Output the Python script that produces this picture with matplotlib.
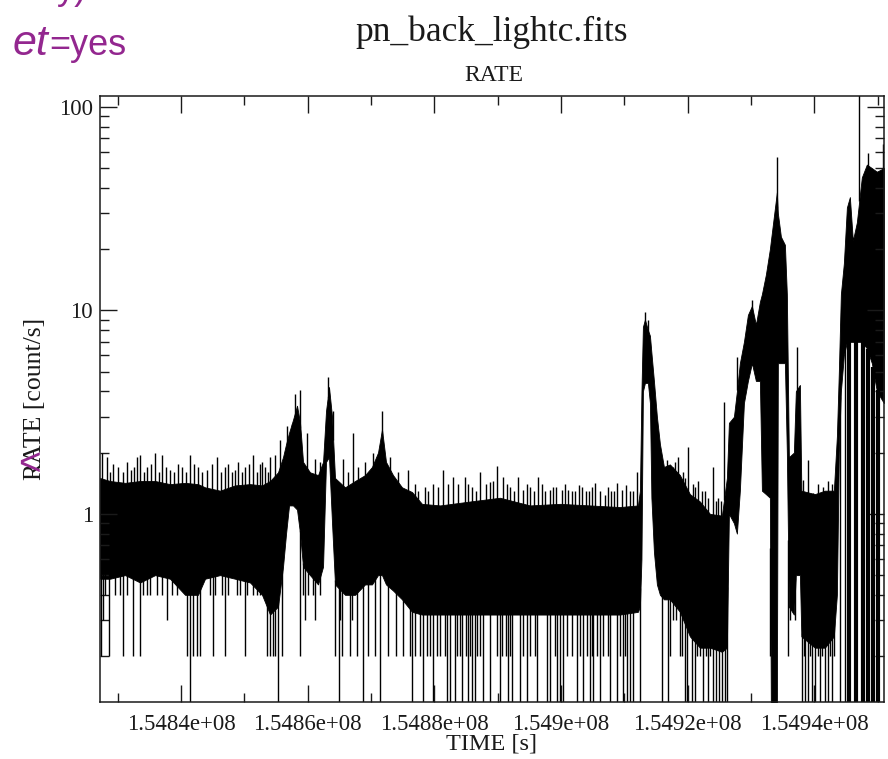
import numpy as np
import matplotlib.pyplot as plt
from matplotlib.ticker import FixedLocator, FuncFormatter, LogLocator, MultipleLocator, NullFormatter

plt.rcParams['font.family'] = 'Liberation Serif'

# --- light curve ---
# envelope of the dense band of bins (TIME [s], RATE [count/s])
knot_time = np.array([
    154827210, 154828790, 154831160, 154833530, 154835900, 154838260, 154840630, 154842680,
    154843790, 154846160, 154848520, 154850890, 154852790, 154854050, 154855310, 154856100,
    154856580, 154857050, 154857680, 154858310, 154858790, 154859260, 154860360, 154861630,
    154862420, 154862890, 154863360, 154863840, 154864310, 154865890, 154867470, 154869050,
    154870150, 154871100, 154871730, 154872360, 154873470, 154874890, 154876470, 154878040,
    154880890, 154885620, 154890360, 154895090, 154899830, 154904560, 154909300, 154912140,
    154912460, 154912700, 154912930, 154913250, 154913720, 154914040, 154914270, 154914670,
    154915140, 154915620, 154916250, 154917190, 154918770, 154920350, 154921930, 154923510,
    154925400, 154926190, 154926510, 154927300, 154927770, 154928240, 154928880, 154929510,
    154930140, 154930770, 154931400, 154931720, 154932350, 154932980, 154933140, 154934080,
    154934240, 154934720, 154935350, 154935660, 154935980, 154936770, 154937080, 154937720,
    154937950, 154940080, 154941660, 154943080, 154943560, 154943870, 154944190, 154944660,
    154945140, 154945610, 154946080, 154946710, 154947500, 154948290, 154949080, 154949870,
    154950980])
band_top = np.array([
    1.5, 1.45, 1.42, 1.45, 1.45, 1.4, 1.42, 1.4,
    1.35, 1.3, 1.38, 1.4, 1.38, 1.45, 1.6, 1.9,
    2.2, 2.5, 2.9, 3.4, 2.8, 1.8, 1.6, 1.55,
    1.8, 3.2, 4.2, 3.0, 1.5, 1.35, 1.45, 1.55,
    1.7, 2.0, 2.6, 1.8, 1.55, 1.35, 1.28, 1.12,
    1.1, 1.15, 1.2, 1.1, 1.12, 1.1, 1.08, 1.1,
    1.3, 4.0, 8.3, 9.0, 8.0, 7.5, 6.2, 4.5,
    3.0, 2.2, 1.7, 1.75, 1.55, 1.25, 1.15, 1.0,
    0.98, 1.5, 2.8, 3.0, 4.0, 5.5, 7.0, 9.5,
    10.5, 8.5, 11.0, 12.0, 15.0, 20.0, 22.0, 38.0,
    30.0, 23.0, 21.0, 12.0, 1.9, 2.0, 4.0, 4.3,
    1.3, 1.25, 1.3, 1.3, 2.4, 5.0, 12.0, 17.0,
    32.0, 36.0, 22.0, 27.0, 45.0, 52.0, 50.0, 48.0,
    50.0])
band_low = np.array([
    0.48, 0.48, 0.5, 0.46, 0.5, 0.48, 0.4, 0.4,
    0.48, 0.5, 0.48, 0.46, 0.4, 0.32, 0.35, 0.55,
    0.8, 1.1, 1.1, 1.05, 0.8, 0.55, 0.5, 0.45,
    0.55, 1.8, 1.9, 0.9, 0.45, 0.4, 0.4, 0.45,
    0.45, 0.5, 0.5, 0.45, 0.42, 0.38, 0.33, 0.32,
    0.32, 0.32, 0.32, 0.32, 0.32, 0.32, 0.32, 0.33,
    0.35, 0.6, 4.0, 4.4, 4.4, 3.5, 1.2, 0.65,
    0.45, 0.4, 0.38, 0.38, 0.33, 0.25, 0.22, 0.22,
    0.21, 0.22, 1.0, 0.9, 0.8, 1.3, 3.5, 4.5,
    5.5, 4.5, 4.5, 1.3, 1.25, 1.2, 0.1, 0.1,
    5.5, 5.5, 5.5, 2.0, 0.35, 0.32, 0.5, 0.5,
    0.25, 0.22, 0.22, 0.25, 0.4, 2.0, 4.0, 6.0,
    7.0, 7.0, 7.0, 7.0, 7.0, 6.5, 5.5, 4.0,
    3.5])

# single bins sticking out above the band
spike_time = [
    154827520, 154828310, 154829260, 154830050, 154831470, 154832100, 154833050, 154833520,
    154834630, 154835890, 154837000, 154838260, 154839530, 154841420, 154842690, 154844110,
    154845690, 154846950, 154848060, 154849010, 154850110, 154851380, 154852480, 154853270,
    154854060, 154854850, 154855640, 154856750, 154857540, 154858010, 154858800, 154859910,
    154861170, 154861960, 154863230, 154864020, 154865600, 154866390, 154867180, 154867970,
    154869070, 154870340, 154871760, 154873020, 154874290, 154875870, 154877450, 154878550,
    154879820, 154881400, 154882190, 154882980, 154883770, 154884870, 154885980, 154887240,
    154888190, 154888820, 154889930, 154890880, 154891980, 154893250, 154894040, 154895140,
    154896410, 154897510, 154898300, 154899250, 154900200, 154901150, 154902250, 154903360,
    154904460, 154905410, 154906990, 154907940, 154908890, 154909680, 154910940, 154912050,
    154913310, 154913790, 154916790, 154917740, 154918530, 154919320, 154920110, 154920900,
    154921690, 154922790, 154924060, 154924850, 154925790, 154927850, 154930220, 154934170,
    154937330, 154938280, 154939070, 154939860, 154947120, 154948550, 154950920,
    154828780, 154830840, 154832570, 154834150, 154835260, 154836520, 154837630, 154838890,
    154840160, 154840790, 154842050, 154843320, 154844900, 154846320, 154847430, 154848530,
    154849640, 154850740, 154852010, 154852800, 154853750,
    154876970, 154879030, 154880610, 154885350, 154886610, 154889300, 154891510, 154892610,
    154894670, 154895770, 154897040, 154898780, 154900670, 154901780, 154902880, 154903990,
    154904940, 154906200, 154907470, 154908410, 154910310, 154911420,
    154918050, 154919630, 154921210, 154922320, 154923270, 154924530, 154925320,
    154940650, 154941440, 154942230, 154942860]
spike_rate = [
    2.0, 1.9, 1.75, 1.7, 1.8, 1.65, 1.9, 1.95,
    1.7, 2.0, 1.95, 1.65, 1.75, 1.95, 1.7, 1.65,
    1.9, 1.7, 1.6, 1.8, 1.7, 1.95, 1.75, 1.7,
    1.9, 1.95, 2.3, 2.7, 2.75, 3.9, 4.05, 2.5,
    1.85, 1.8, 4.7, 3.2, 1.85, 1.6, 2.5, 1.7,
    1.8, 2.0, 3.2, 1.9, 1.6, 1.65, 1.3, 1.35,
    1.4, 1.65, 1.4, 1.52, 1.4, 1.52, 1.35, 1.6,
    1.4, 1.43, 1.72, 1.52, 1.35, 1.52, 1.31, 1.35,
    1.52, 1.3, 1.31, 1.35, 1.31, 1.31, 1.3, 1.35,
    1.3, 1.41, 1.24, 1.3, 1.41, 1.31, 1.3, 1.6,
    9.8, 9.0, 1.83, 1.7, 1.9, 1.6, 2.13, 1.4,
    1.45, 1.3, 1.7, 1.2, 3.55, 5.9, 11.2, 56.7,
    6.6, 1.46, 1.83, 1.26, 120.0, 59.0, 66.0,
    1.6, 1.6, 1.7, 1.6, 1.75, 1.6, 1.7, 1.6,
    1.7, 1.6, 1.75, 1.6, 1.75, 1.6, 1.75, 1.65,
    1.6, 1.75, 1.6, 1.8, 1.6,
    1.4, 1.3, 1.35, 1.4, 1.3, 1.45, 1.4, 1.3,
    1.4, 1.3, 1.4, 1.35, 1.4, 1.3, 1.38, 1.3,
    1.35, 1.3, 1.35, 1.3, 1.38, 1.3,
    1.8, 1.5, 1.35, 1.3, 1.2, 1.15, 1.15,
    1.4, 1.35, 1.45, 1.4]

# single bins falling below the band, grouped by their rate
zero_time = [
    154841420, 154855330, 154864960, 154868760, 154871440, 154876500, 154878240, 154879820,
    154882030, 154882500, 154883290, 154884400, 154885350, 154885980, 154886450, 154887720,
    154888820, 154890400, 154891670, 154892300, 154893560, 154894670, 154896250, 154897830,
    154898300, 154899410, 154899880, 154900360, 154902570, 154903520, 154904620, 154905100,
    154906200, 154907780, 154908890, 154909840, 154910470, 154910940, 154911420, 154912520,
    154916000, 154916950, 154919630, 154919950, 154920740, 154921210, 154922480, 154923270,
    154924060, 154924530, 154925000, 154925480, 154925950, 154926270, 154938120, 154938590,
    154939070, 154939700, 154940170, 154940960, 154941750, 154942230, 154942860, 154944120,
    154944910]
zero_run_time = [154945540, 154946650, 154947760, 154948550, 154949340, 154950130]
dip02_time = [
    154827360, 154828620, 154830840, 154832420, 154833520, 154840950, 154841900, 154842530,
    154843000, 154845060, 154846950, 154850110, 154853590, 154854060, 154854540, 154854850,
    154855960, 154858800, 154864330, 154865440, 154866700, 154867810, 154869550, 154870650,
    154872710, 154873970, 154875080, 154876180, 154876970, 154877760, 154878870, 154879340,
    154880450, 154880920, 154881710, 154883610, 154884080, 154885030, 154885660, 154886770,
    154887240, 154889930, 154890720, 154891350, 154891980, 154894040, 154895140, 154895930,
    154899090, 154900990, 154901780, 154903040, 154904150, 154904940, 154905730, 154906680,
    154907470, 154909360, 154910150, 154917260, 154918840, 154919160, 154921530, 154922000,
    154922950, 154923580, 154933060, 154935910, 154938430, 154939380, 154940650, 154941280,
    154942540, 154943170]
dip03_time = [
    154827680, 154837790, 154859590, 154861170, 154865120, 154867020, 154917740, 154918210,
    154936220, 154937010]
dip04_time = [
    154827990, 154829570, 154830360, 154831470, 154834000, 154834630, 154835100, 154836210,
    154837000, 154838580, 154839370, 154844580, 154845370, 154846480, 154847430, 154848850,
    154849320, 154850430, 154851380, 154852010, 154852480, 154859280, 154860070, 154860860,
    154861960]

purple = '#93278f'
ink = '#1a1a1a'
y_floor = 0.1

fig = plt.figure(figsize=(8.88, 7.59), dpi=100)
ax = fig.add_axes([100 / 888, 57 / 759, 784 / 888, 606 / 759])
ax.set_yscale('log')

ax.fill_between(knot_time, band_low, band_top, color='k', lw=0.6)

base = np.interp(spike_time, knot_time, band_top) * 0.95
ax.vlines(spike_time, base, spike_rate, color='k', lw=1.0)

for level, times, width in [(y_floor, zero_time, 1.0), (y_floor, zero_run_time, 3.0),
                            (0.2, dip02_time, 1.0), (0.3, dip03_time, 1.0),
                            (0.4, dip04_time, 1.0)]:
    top = np.interp(times, knot_time, band_low) * 1.05
    ax.vlines(times, level, top, color='k', lw=width)

ax.set_xlim(154827200, 154951000)
ax.set_ylim(0.119, 113)

ax.xaxis.set_major_locator(MultipleLocator(20000))
ax.xaxis.set_minor_locator(MultipleLocator(10000))
ax.xaxis.set_major_formatter(FuncFormatter(lambda v, p: '%g' % v))
ax.yaxis.set_major_locator(FixedLocator([1, 10, 100]))
ax.yaxis.set_major_formatter(FuncFormatter(lambda v, p: '%g' % v))
ax.yaxis.set_minor_locator(LogLocator(base=10, subs=np.arange(2, 10)))
ax.yaxis.set_minor_formatter(NullFormatter())

ax.tick_params(which='both', direction='in', top=True, right=True, width=1.0,
               color=ink, labelcolor=ink, labelsize=16.5)
ax.tick_params(which='major', length=12)
ax.tick_params(which='minor', length=6.5)
ax.tick_params(axis='x', pad=9)
ax.tick_params(axis='y', pad=5)
for s in ax.spines.values():
    s.set_linewidth(1.1)
    s.set_color(ink)

ax.set_xlabel('TIME [s]', fontsize=17.5, color=ink)
ax.xaxis.set_label_coords(0.5, -0.052)
ax.set_ylabel('RATE [count/s]', fontsize=18.5, color=ink)
ax.yaxis.set_label_coords(-0.069, 0.5)

fig.text(492 / 888, 1 - 41 / 759, 'pn_back_lightc.fits', ha='center', va='baseline',
         fontsize=25.5, color=ink)
fig.text(494 / 888, 1 - 81 / 759, 'RATE', ha='center', va='baseline', fontsize=17, color=ink)

# bits of the slide text around the plot
fig.text(48 / 888, 1 - 55 / 759, 'et', family='Liberation Sans', style='italic',
         ha='right', va='baseline', fontsize=31, color=purple)
fig.text(49 / 888, 1 - 55 / 759, '=yes', family='Liberation Sans',
         ha='left', va='baseline', fontsize=26, color=purple)
fig.text(57 / 888, 1 + 1 / 759, 'y)', family='Liberation Sans',
         ha='left', va='baseline', fontsize=26, color=purple)
fig.text(29 / 888, 1 - 465 / 759, '<', family='Liberation Sans',
         ha='center', va='center', fontsize=28, color=purple)

fig.savefig('out.png', dpi=100)
